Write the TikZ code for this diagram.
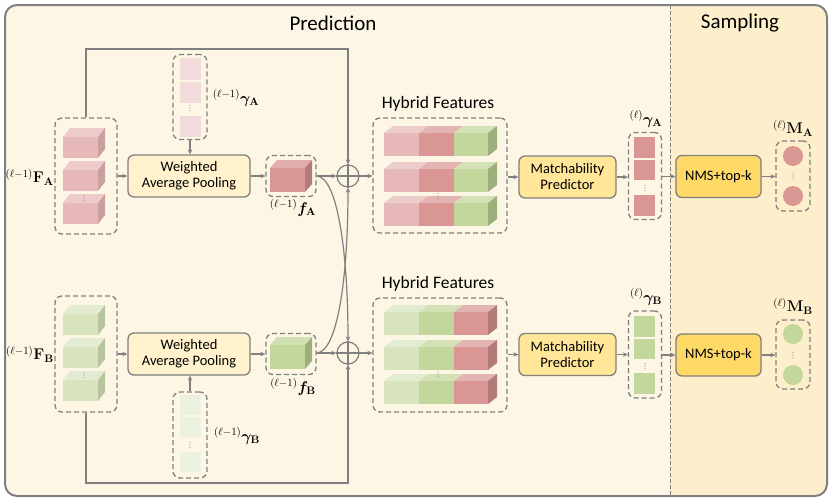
\documentclass[tikz,border=0pt]{standalone}
\usepackage{fix-cm}
\usepackage{amsmath,bm}
\usepackage[no-math]{fontspec}
\setmainfont{Carlito}
\usetikzlibrary{arrows.meta,calc}

\definecolor{bgP}{HTML}{FEF6E4}
\definecolor{bgS}{HTML}{FDEFCB}
\definecolor{frame}{HTML}{808080}
\definecolor{wapfill}{HTML}{FFF2CC}
\definecolor{mpfill}{HTML}{FFE699}
\definecolor{nmsfill}{HTML}{FFD966}
\definecolor{pinkF}{HTML}{E6B9B8}
\definecolor{pinkT}{HTML}{EDCBCA}
\definecolor{pinkS}{HTML}{C8A09F}
\definecolor{redF}{HTML}{D99694}
\definecolor{redT}{HTML}{E2ADAC}
\definecolor{redS}{HTML}{B27A79}
\definecolor{grnF}{HTML}{D7E4BD}
\definecolor{grnT}{HTML}{E3ECD2}
\definecolor{grnS}{HTML}{B7C59E}
\definecolor{gmdF}{HTML}{C3D69B}
\definecolor{gmdT}{HTML}{D2E1B4}
\definecolor{gmdS}{HTML}{9DB07C}
\definecolor{gamP}{HTML}{F2DCDB}
\definecolor{gamG}{HTML}{EBF1DE}

% x y w h dx dy front top side
\newcommand\mycube[9]{%
  \fill[#7] (#1,#2) rectangle ++(#3,#4);
  \fill[#8] (#1,#2) -- ++(#5,-#6) -- ++(#3,0) -- ++(-#5,#6) -- cycle;
  \fill[#9] (#1+#3,#2) -- ++(#5,-#6) -- ++(0,#4) -- ++(-#5,#6) -- cycle;
}
% y c1 c2 c3 side
\newcommand\hybar[5]{%
  \foreach \xx/\ww/\cc in {384/35/#2, 419/35/#3, 454/34/#4} {
    \fill[\cc] (\xx,#1) rectangle ++(\ww,23);
    \fill[\cc!72!white] (\xx,#1) -- ++(9,-7) -- ++(\ww,0) -- ++(-9,7) -- cycle;
  }
  \fill[#5] (488,#1) -- ++(9,-7) -- ++(0,23) -- ++(-9,7) -- cycle;
}
\newcommand\mydots[2]{%
  \foreach \k in {-1,0,1} \fill[frame] (#1,#2+\k*2.6) circle (0.55);
}

\tikzset{
  dbox/.style={draw=frame, line width=1.3pt, dash pattern=on 5pt off 3pt, rounded corners=7pt, inner sep=0pt},
  sbox/.style={draw=frame, line width=1.3pt, rounded corners=6pt, align=center, inner sep=0pt,
    font=\fontsize{14.5}{16}\selectfont},
  arr/.style={draw=frame, line width=1.2pt, -{Stealth[length=5pt,width=4.5pt]}},
  ln/.style={draw=frame, line width=1.2pt},
  lab/.style={font=\fontsize{15.5}{18}\selectfont, inner sep=0pt},
  title/.style={font=\fontsize{21}{24}\selectfont, inner sep=0pt},
  opl/.style={circle, draw=frame, line width=1.2pt, minimum size=22pt, inner sep=0pt},
}

\begin{document}
\begin{tikzpicture}[x=1pt,y=-1pt]
\useasboundingbox (0,0) rectangle (831,501);

% background
\begin{scope}
  \clip[rounded corners=12pt] (5,5) rectangle (827,496);
  \fill[bgP] (5,5) rectangle (827,496);
  \fill[bgS] (670,5) rectangle (827,496);
\end{scope}
\draw[frame, line width=0.8pt, dash pattern=on 4pt off 2pt] (670,5) -- (670,496);
\draw[frame, line width=2pt, rounded corners=12pt] (5,5) rectangle (827,496);

\node[title] (tP) at (333,23) {Prediction};
\node[title] (tS) at (740,23) {Sampling};

% ================= Row A =================
\node[dbox, minimum width=62pt, minimum height=116pt] (FA) at (86,176) {};
\mycube{63}{137}{35}{21}{7}{9}{pinkF}{pinkT}{pinkS}
\mycube{63}{170}{35}{21}{7}{9}{pinkF}{pinkT}{pinkS}
\mycube{63}{203}{35}{21}{7}{9}{pinkF}{pinkT}{pinkS}
\mydots{84}{198}
\node[lab, anchor=east] (lFA) at (54,177) {$^{(\ell-1)}\mathbf{F}_{\mathbf{A}}$};

\node[sbox, fill=wapfill, minimum width=122pt, minimum height=42pt] (WA) at (189,176) {Weighted\\Average Pooling};

\node[dbox, minimum width=34pt, minimum height=85pt] (gA0) at (190,97) {};
\fill[gamP] (180,58) rectangle (201,80);
\fill[gamP] (180,82) rectangle (201,103);
\fill[gamP] (180,116) rectangle (201,137);
\mydots{190}{108}
\node[lab] (lgA0) at (236,98) {$^{(\ell-1)}\bm{\gamma}_{\mathbf{A}}$};

\node[dbox, minimum width=50pt, minimum height=41pt] (fA) at (291,176) {};
\mycube{270}{168}{35}{24}{7}{8}{redF}{redT}{redS}
\node[lab] (lfA) at (293,208) {$^{(\ell-1)}\bm{f}_{\mathbf{A}}$};

\node[opl] (oA) at (348,176) {};
\draw[ln] (oA.north) -- (oA.south) (oA.west) -- (oA.east);

\node[font=\fontsize{17.5}{20}\selectfont, inner sep=0pt] (lHA) at (438,104) {Hybrid Features};
\node[dbox, minimum width=134pt, minimum height=115pt] (HA) at (440,175.5) {};
\hybar{133}{pinkF}{redF}{gmdF}{gmdS}
\hybar{169}{pinkF}{redF}{gmdF}{gmdS}
\hybar{203}{pinkF}{redF}{gmdF}{gmdS}
\mydots{438}{196}

\node[sbox, fill=mpfill, minimum width=97pt, minimum height=42pt] (MPA) at (567.5,177) {Matchability\\Predictor};

\node[dbox, minimum width=33pt, minimum height=87pt] (gA1) at (645,176) {};
\fill[redF] (634,137) rectangle (655,158);
\fill[redF] (634,160) rectangle (655,180);
\fill[redF] (634,195) rectangle (655,216);
\mydots{645}{188}
\node[lab] (lgA1) at (646,119) {$^{(\ell)}\bm{\gamma}_{\mathbf{A}}$};

\node[sbox, fill=nmsfill, minimum width=85pt, minimum height=42pt] (NA) at (718.5,176.5) {NMS+top-k};

\node[dbox, minimum width=34pt, minimum height=70pt] (MA) at (793,176) {};
\fill[redF] (793,156) circle (10);
\fill[redF] (793,196) circle (10);
\mydots{793}{176}
\node[lab] (lMA) at (793,128) {$^{(\ell)}\mathbf{M}_{\mathbf{A}}$};

% ================= Row B =================
\node[dbox, minimum width=62pt, minimum height=116pt] (FB) at (86,354) {};
\mycube{63}{314}{35}{21}{7}{9}{grnF}{grnT}{grnS}
\mycube{63}{347}{35}{21}{7}{9}{grnF}{grnT}{grnS}
\mycube{63}{380}{35}{21}{7}{9}{grnF}{grnT}{grnS}
\mydots{84}{375}
\node[lab, anchor=east] (lFB) at (54,354) {$^{(\ell-1)}\mathbf{F}_{\mathbf{B}}$};

\node[sbox, fill=wapfill, minimum width=122pt, minimum height=42pt] (WB) at (189,354) {Weighted\\Average Pooling};

\node[dbox, minimum width=34pt, minimum height=86pt] (gB0) at (190,435) {};
\fill[gamG] (180,395) rectangle (201,415);
\fill[gamG] (180,417) rectangle (201,437);
\fill[gamG] (180,452) rectangle (201,472);
\mydots{190}{445}
\node[lab] (lgB0) at (237,436) {$^{(\ell-1)}\bm{\gamma}_{\mathbf{B}}$};

\node[dbox, minimum width=50pt, minimum height=41pt] (fB) at (291,354) {};
\mycube{270}{345}{35}{24}{7}{8}{gmdF}{gmdT}{gmdS}
\node[lab] (lfB) at (293,387) {$^{(\ell-1)}\bm{f}_{\mathbf{B}}$};

\node[opl] (oB) at (348,353) {};
\draw[ln] (oB.north) -- (oB.south) (oB.west) -- (oB.east);

\node[font=\fontsize{17.5}{20}\selectfont, inner sep=0pt] (lHB) at (438,284) {Hybrid Features};
\node[dbox, minimum width=134pt, minimum height=114pt] (HB) at (440,355) {};
\hybar{312}{grnF}{gmdF}{redF}{redS}
\hybar{347}{grnF}{gmdF}{redF}{redS}
\hybar{381}{grnF}{gmdF}{redF}{redS}
\mydots{438}{374}

\node[sbox, fill=mpfill, minimum width=97pt, minimum height=42pt] (MPB) at (567.5,354.5) {Matchability\\Predictor};

\node[dbox, minimum width=33pt, minimum height=87pt] (gB1) at (645,354.5) {};
\fill[gmdF] (634,316) rectangle (655,337);
\fill[gmdF] (634,339) rectangle (655,359);
\fill[gmdF] (634,373) rectangle (655,394);
\mydots{645}{366}
\node[lab] (lgB1) at (646,297) {$^{(\ell)}\bm{\gamma}_{\mathbf{B}}$};

\node[sbox, fill=nmsfill, minimum width=85pt, minimum height=42pt] (NB) at (718.5,355) {NMS+top-k};

\node[dbox, minimum width=34pt, minimum height=69pt] (MB) at (793,354.5) {};
\fill[gmdF] (793,334) circle (10);
\fill[gmdF] (793,375) circle (10);
\mydots{793}{355}
\node[lab] (lMB) at (793,306) {$^{(\ell)}\mathbf{M}_{\mathbf{B}}$};

% ================= Connectors =================
\coordinate (tL) at (86,49);
\coordinate (tR) at (348,49);
\coordinate (bL) at (86,483);
\coordinate (bR) at (348,483);
\draw[arr] (FA.north) -- (tL) -- (tR) -- (oA.north);
\draw[arr] (FB.south) -- (bL) -- (bR) -- (oB.south);

\draw[arr] (FA.east) -- (WA.west);
\draw[arr] (gA0.south) -- (gA0.south |- WA.north);
\draw[arr] (WA.east) -- (fA.west);
\draw[arr] (fA.east) -- (oA.west);
\draw[arr] (oA.east) -- (oA.east -| HA.west);
\draw[arr] (HA.east |- MPA.west) -- (MPA.west);
\draw[arr] (MPA.east) -- (MPA.east -| gA1.west);
\draw[arr] (gA1.east |- NA.west) -- (NA.west);
\draw[arr] (NA.east) -- (NA.east -| MA.west);

\draw[arr] (FB.east |- WB.west) -- (WB.west);
\draw[arr] (gB0.north) -- (gB0.north |- WB.south);
\draw[arr] (WB.east) -- (fB.west);
\draw[arr] (fB.east |- oB.west) -- (oB.west);
\draw[arr] (oB.east) -- (oB.east -| HB.west);
\draw[arr] (HB.east |- MPB.west) -- (MPB.west);
\draw[arr] (MPB.east) -- (MPB.east -| gB1.west);
\draw[arr] (gB1.east |- NB.west) -- (NB.west);
\draw[arr] (NB.east) -- (NB.east -| MB.west);

\draw[arr] (fA.east) .. controls (338,177) and (348,255) .. (oB.north);
\draw[arr] (fB.east |- oB.west) .. controls (338,352) and (348,275) .. (oA.south);
\end{tikzpicture}
\end{document}
